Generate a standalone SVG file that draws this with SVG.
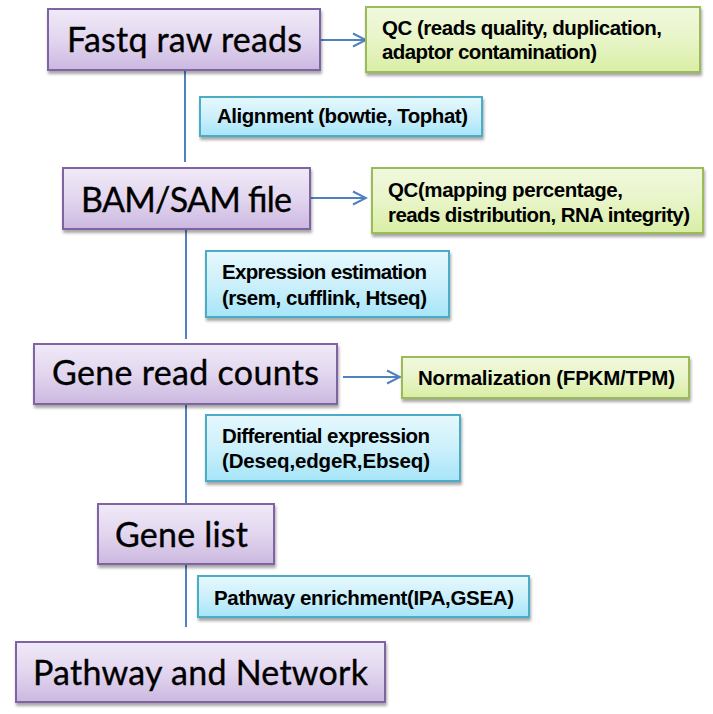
<svg xmlns="http://www.w3.org/2000/svg" width="713" height="714" viewBox="0 0 713 714">
<defs>
<linearGradient id="gp" x1="0" y1="0" x2="0" y2="1">
<stop offset="0" stop-color="#F0EAF7"/><stop offset="0.5" stop-color="#E2D6EF"/><stop offset="1" stop-color="#CBB8E0"/>
</linearGradient>
<linearGradient id="gg" x1="0" y1="0" x2="0" y2="1">
<stop offset="0" stop-color="#F1F8DE"/><stop offset="0.5" stop-color="#E8F5C8"/><stop offset="1" stop-color="#D9EEA4"/>
</linearGradient>
<linearGradient id="gb" x1="0" y1="0" x2="0" y2="1">
<stop offset="0" stop-color="#E6F8FD"/><stop offset="0.5" stop-color="#CCF0FB"/><stop offset="1" stop-color="#A6E5F8"/>
</linearGradient>
<filter id="sh" x="-10%" y="-20%" width="130%" height="160%">
<feGaussianBlur in="SourceAlpha" stdDeviation="1.6"/>
<feOffset dx="1" dy="3" result="b"/>
<feComponentTransfer><feFuncA type="linear" slope="0.35"/></feComponentTransfer>
<feMerge><feMergeNode/><feMergeNode in="SourceGraphic"/></feMerge>
</filter>
<marker id="ah" viewBox="0 0 16 16" refX="14" refY="8" markerWidth="16" markerHeight="16" markerUnits="userSpaceOnUse" orient="auto">
<path d="M1,1.5 L14,8 L1,14.5" fill="none" stroke="#4F81BD" stroke-width="2"/>
</marker>
</defs>
<style>
.p{fill:url(#gp);stroke:#8064A2;stroke-width:2;filter:url(#sh)}
.g{fill:url(#gg);stroke:#9BBB59;stroke-width:2;filter:url(#sh)}
.b{fill:url(#gb);stroke:#4BACC6;stroke-width:2;filter:url(#sh)}
.big{font-family:Lato,"Open Sans",sans-serif;font-size:34px;fill:#000;stroke:#000;stroke-width:0.35}
.sm{font-family:"Liberation Sans",Arial,sans-serif;font-weight:bold;font-size:20.5px;fill:#000}
.ln{stroke:#4F81BD;stroke-width:2;fill:none}
</style>
<rect width="713" height="714" fill="#fff"/>
<g id="connectors">
<line class="ln" x1="185" y1="70" x2="185" y2="162"/>
<line class="ln" x1="186" y1="229" x2="186" y2="339"/>
<line class="ln" x1="186" y1="404" x2="186" y2="503"/>
<line class="ln" x1="186" y1="564" x2="186" y2="627"/>
<line class="ln" x1="321" y1="40" x2="366" y2="40" marker-end="url(#ah)"/>
<line class="ln" x1="310" y1="198" x2="366" y2="198" marker-end="url(#ah)"/>
<line class="ln" x1="343" y1="377" x2="400" y2="377" marker-end="url(#ah)"/>
</g>
<g id="fastq"><rect class="p" x="48" y="9" width="272" height="61"/>
<text class="big" x="67" y="52" textLength="235">Fastq raw reads</text></g>
<g id="qc1"><rect class="g" x="366" y="7" width="334" height="65"/>
<text class="sm" x="382" y="35" textLength="280">QC (reads quality, duplication,</text>
<text class="sm" x="382" y="59" textLength="215">adaptor contamination)</text></g>
<g id="alignment"><rect class="b" x="200" y="97" width="282" height="39"/>
<text class="sm" x="217" y="123" textLength="251">Alignment (bowtie, Tophat)</text></g>
<g id="bam"><rect class="p" x="63" y="168" width="247" height="61"/>
<text class="big" x="81" y="212" textLength="211">BAM/SAM file</text></g>
<g id="qc2"><rect class="g" x="372" y="168" width="331" height="65"/>
<text class="sm" x="388" y="197" textLength="235">QC(mapping percentage,</text>
<text class="sm" x="388" y="222" textLength="302">reads distribution, RNA integrity)</text></g>
<g id="expression"><rect class="b" x="206" y="251" width="243" height="66"/>
<text class="sm" x="222" y="279" textLength="205">Expression estimation</text>
<text class="sm" x="222" y="305" textLength="205">(rsem, cufflink, Htseq)</text></g>
<g id="genecounts"><rect class="p" x="34" y="344" width="303" height="60"/>
<text class="big" x="52" y="385" textLength="267">Gene read counts</text></g>
<g id="normalization"><rect class="g" x="402" y="357" width="287" height="41"/>
<text class="sm" x="418" y="385" textLength="257">Normalization (FPKM/TPM)</text></g>
<g id="differential"><rect class="b" x="206" y="415" width="254" height="66"/>
<text class="sm" x="222" y="443" textLength="208">Differential expression</text>
<text class="sm" x="222" y="468" textLength="208">(Deseq,edgeR,Ebseq)</text></g>
<g id="genelist"><rect class="p" x="98" y="504" width="176" height="60"/>
<text class="big" x="115" y="547" textLength="133">Gene list</text></g>
<g id="pathwayenrich"><rect class="b" x="198" y="576" width="331" height="41"/>
<text class="sm" x="214" y="605" textLength="300">Pathway enrichment(IPA,GSEA)</text></g>
<g id="pathwaynetwork"><rect class="p" x="16" y="642" width="369" height="60"/>
<text class="big" x="33" y="685" textLength="335">Pathway and Network</text></g>
</svg>
